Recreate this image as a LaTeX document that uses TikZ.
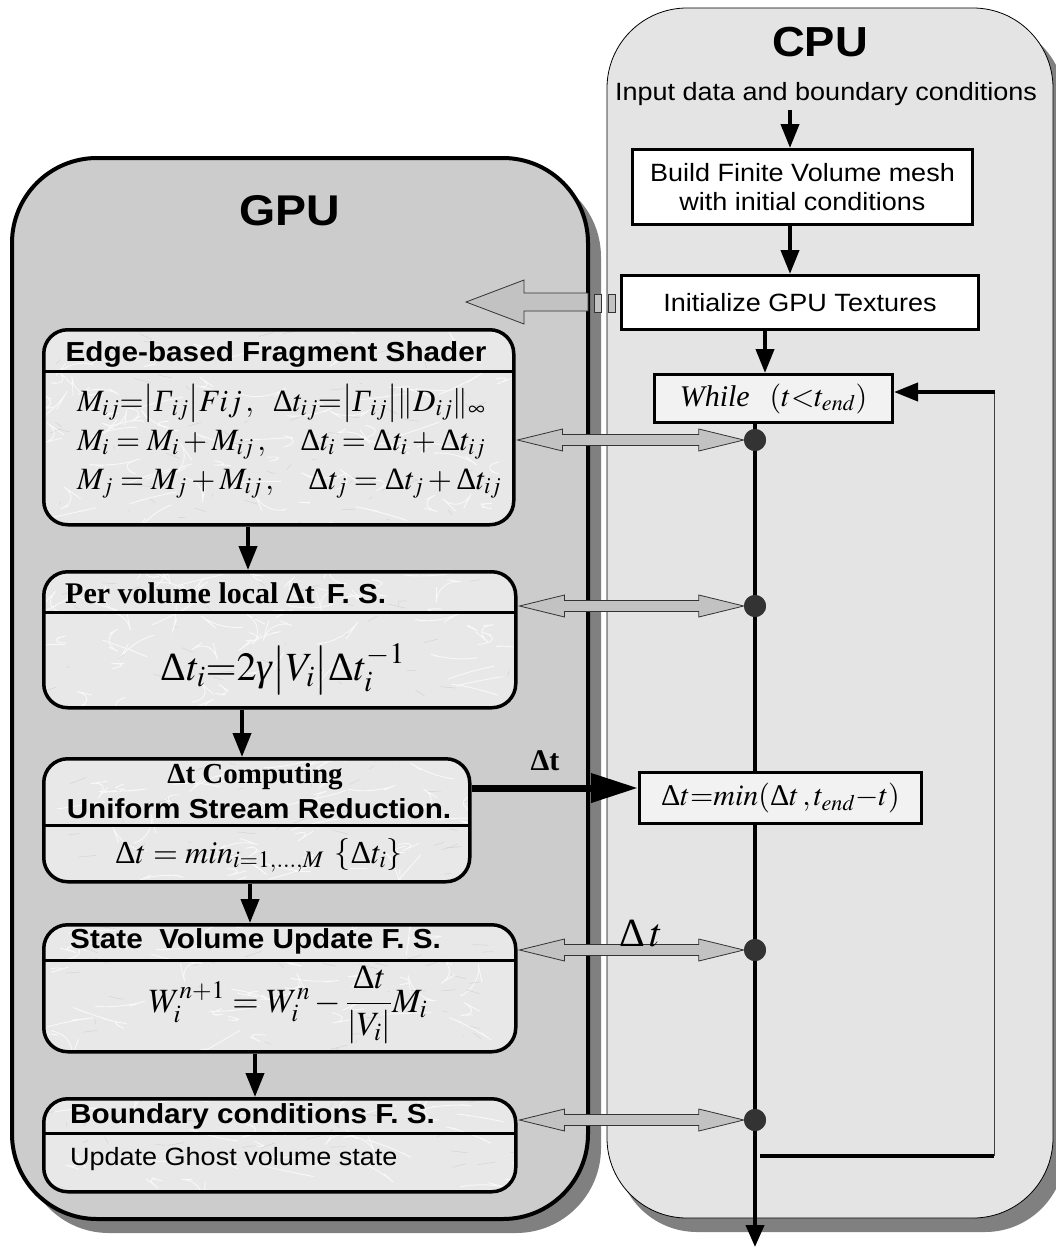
\documentclass[tikz,border=0pt]{standalone}
\usepackage{mathptmx}
\usepackage{fontspec}
\setmainfont{Liberation Serif}
\setsansfont{Liberation Sans}[FakeStretch=1.08]
\usetikzlibrary{arrows.meta,calc}

\definecolor{gpugray}{HTML}{CCCCCC}
\definecolor{cpugray}{HTML}{E4E4E4}
\definecolor{shadegray}{HTML}{808080}
\definecolor{stone}{HTML}{E8E8E8}
\definecolor{vein}{HTML}{F8F8F8}
\definecolor{grain}{HTML}{D4D4D4}
\definecolor{pipegray}{HTML}{C2C2C2}
\definecolor{dotgray}{HTML}{333333}
\definecolor{loopbox}{HTML}{F2F2F2}

% Greek letters taken from the Times-like text font
\newcommand\tDelta{\mbox{\rmfamily\upshape Δ}}
\newcommand\tGamma{\mbox{\rmfamily\itshape Γ}}
\newcommand\tgamma{\mbox{\rmfamily\itshape γ}}

% two-headed transfer arrow between a GPU stage and a junction on the CPU line
\newcommand\twoway[2]{%
  \path[pipe] let \p1=($(#1.east |- #2)+(2pt,0)$), \p2=(#2.west) in
    (\x1,\y1) -- (\x1+45pt,\y1+11pt) -- (\x1+45pt,\y1+5.5pt)
    -- (\x2-45pt,\y1+5.5pt) -- (\x2-45pt,\y1+11pt) -- (\x2,\y1)
    -- (\x2-45pt,\y1-11pt) -- (\x2-45pt,\y1-5.5pt)
    -- (\x1+45pt,\y1-5.5pt) -- (\x1+45pt,\y1-11pt) -- cycle;}

\begin{document}
\begin{tikzpicture}[x=1pt, y=-1pt,
  every node/.style={inner sep=0pt},
  marble/.style={path picture={
    \foreach \k in {1,...,70}{
      \draw[vein, line width=0.9pt]
        ($(path picture bounding box.south west)+(rnd*480pt,rnd*200pt)$)
        -- ++(rand*28pt,rand*9pt) -- ++(rand*20pt,rand*7pt);
      \draw[grain, line width=0.5pt]
        ($(path picture bounding box.south west)+(rnd*480pt,rnd*200pt)$)
        -- ++(rand*18pt,rand*6pt);}}},
  stage/.style={draw, line width=3.5pt, fill=stone, marble, rounded corners=24pt, anchor=north west},
  hdr/.style={font=\sffamily\bfseries\fontsize{27.5}{36}\selectfont},
  cpubox/.style={draw, line width=3pt, fill=white, anchor=north west},
  flow/.style={line width=4pt, -{Triangle[length=24pt,width=18pt]}},
  pipe/.style={fill=pipegray, draw=black!80, line width=0.8pt},
  junction/.style={circle, fill=dotgray, minimum size=22pt},
  divider/.style={line width=3pt},
  eq/.style={font=\fontsize{31}{34}\selectfont}]
\useasboundingbox (0,0) rectangle (1055,1247);
\pgfmathsetseed{11}

% ---- GPU panel
\fill[shadegray, rounded corners=85pt] (24,172) rectangle (601,1233);
\draw[line width=4pt, fill=gpugray, rounded corners=85pt] (12,158) rectangle (588,1219);
\node[font=\sffamily\bfseries\fontsize{43}{48}\selectfont] (gputitle) at (290,211) {GPU};

% ---- CPU panel
\fill[shadegray, rounded corners=80pt] (617,22) rectangle (1065,1232);
\draw[line width=0.8pt, fill=cpugray, rounded corners=80pt] (607,8) rectangle (1053,1218);
\node[font=\sffamily\bfseries\fontsize{42}{48}\selectfont] (cputitle) at (820,42) {CPU};

% ---- GPU stages
\node[stage, minimum width=470pt, minimum height=195pt] (edge) at (42,328) {};
\draw[divider] (42,371) -- (512,371);
\node[hdr, anchor=base] (edgehdr) at (276,361) {Edge-based Fragment Shader};
\node[eq, anchor=base west] (eqa) at (77,411)
  {$M_{ij}{=}\bigl|\tGamma_{ij}\bigr|Fij\,,\ \ \tDelta t_{ij}{=}\bigl|\tGamma_{ij}\bigr|\|D_{ij}\|_{\infty}$};
\node[eq, anchor=base west] (eqb) at (77,450)
  {$M_{i}=M_{i}+M_{ij}\,,\quad \tDelta t_{i}=\tDelta t_{i}+\tDelta t_{ij}$};
\node[eq, anchor=base west] (eqc) at (77,489)
  {$M_{j}=M_{j}+M_{ij}\,,\quad \tDelta t_{j}=\tDelta t_{j}+\tDelta t_{ij}$};

\node[stage, minimum width=472pt, minimum height=136pt] (local) at (42,570) {};
\draw[divider] (42,612) -- (514,612);
\node[anchor=base west] (localhdr) at (65,603)
  {{\rmfamily\bfseries\fontsize{30}{32}\selectfont Per volume local Δt}\hspace{12pt}{\sffamily\bfseries\fontsize{27.5}{30}\selectfont F. S.}};
\node[font=\fontsize{40}{44}\selectfont, anchor=base] (eqd) at (283,680)
  {$\tDelta t_{i}{=}2\tgamma\bigl|V_{i}\bigr|\tDelta t_{i}^{-1}$};

\node[stage, minimum width=426pt, minimum height=123pt] (reduce) at (42,757) {};
\draw[divider] (42,825) -- (468,825);
\node[font=\rmfamily\bfseries\fontsize{29}{30}\selectfont, anchor=base] (reducehdr) at (255,783) {Δt Computing};
\node[hdr, anchor=base] (reducesub) at (259,818) {Uniform Stream Reduction.};
\node[font=\fontsize{32}{34}\selectfont, anchor=base west] (eqe) at (115,863)
  {$\tDelta t=min_{i=1,\dots,M}\;\left\{\tDelta t_{i}\right\}$};

\node[stage, minimum width=472pt, minimum height=127pt] (update) at (42,923) {};
\draw[divider] (42,960) -- (514,960);
\node[hdr, anchor=base west] (updatehdr) at (70,948) {State\ \ Volume Update F. S.};
\node[font=\fontsize{34}{36}\selectfont, anchor=base] (eqf) at (288,1012)
  {$W_{i}^{n+1}=W_{i}^{n}-\displaystyle\frac{\tDelta t}{\left|V_{i}\right|}M_{i}$};

\node[stage, minimum width=472pt, minimum height=93pt] (bound) at (42,1097) {};
\draw[divider] (42,1133) -- (514,1133);
\node[hdr, anchor=base west] (boundhdr) at (70,1123) {Boundary conditions F. S.};
\node[font=\sffamily\fontsize{25}{30}\selectfont, anchor=base west] (boundtxt) at (70,1165) {Update Ghost volume state};

% ---- CPU steps
\node[font=\sffamily\fontsize{25}{30}\selectfont] (input) at (826,94) {Input data and boundary conditions};
\node[cpubox, minimum width=340pt, minimum height=75pt, align=center,
      font=\sffamily\fontsize{25}{29}\selectfont] (mesh) at (631,148)
  {Build Finite Volume mesh\\with initial conditions};
\node[cpubox, minimum width=357pt, minimum height=54pt,
      font=\sffamily\fontsize{25}{30}\selectfont] (tex) at (620,274) {Initialize GPU Textures};
\node[cpubox, fill=loopbox, minimum width=238pt, minimum height=48pt,
      font=\fontsize{30}{32}\selectfont] (whilebox) at (653,373)
  {$\mbox{\itshape While}\;\;\;(t{<}t_{end})$};
\node[cpubox, fill=loopbox, minimum width=282pt, minimum height=51pt,
      font=\fontsize{30}{32}\selectfont] (clamp) at (638,771)
  {$\tDelta t{=}min(\tDelta t\,,t_{end}{-}t)$};

% guide coordinates
\coordinate (xa) at (790,0);
\coordinate (xb) at (765,0);
\coordinate (xm) at (755,0);
\coordinate (xr) at (994,0);
\coordinate (ya) at (0,788);
\coordinate (bottom) at (755,1247);
\coordinate (loopin) at (994,392);
\coordinate (loopout) at (755,1156);
\coordinate (gpuin) at (466,302);
\coordinate (g1) at (248,0);
\coordinate (g2) at (242,0);
\coordinate (g3) at (250,0);
\coordinate (g4) at (255,0);

% CPU control flow
\draw[flow] ($(input.south -| xa)+(0,4)$) -- (mesh.north -| xa);
\draw[flow] (mesh.south -| xa) -- (tex.north -| xa);
\draw[flow] (tex.south -| xb) -- (whilebox.north -| xb);
\draw[line width=4pt] (whilebox.south -| xm) -- (clamp.north -| xm);
\draw[line width=4pt, -{Triangle[length=22pt,width=18pt]}] (clamp.south -| xm) -- (bottom);
\draw[line width=4pt] ($(loopout)+(5,0)$) -- (loopout -| xr);
\draw[line width=1pt, draw=black!75] (loopout -| xr) -- (loopin);
\draw[flow] ([xshift=1pt]loopin) -- (whilebox.east |- loopin);

% GPU stage sequence
\draw[flow] (edge.south -| g1) -- (local.north -| g1);
\draw[flow] (local.south -| g2) -- (reduce.north -| g2);
\draw[flow] (reduce.south -| g3) -- (update.north -| g3);
\draw[flow] (update.south -| g4) -- (bound.north -| g4);

% texture upload towards the GPU
\path[pipe] (gpuin) -- (524,280) -- (524,293) -- (588,293) -- (588,311) -- (524,311) -- (524,324) -- cycle;
\path[pipe] (594,294) rectangle (601,312);
\path[pipe] (608,294) rectangle (615,312);

% reduced time step sent to the CPU
\draw[line width=7pt, -{Triangle[length=47pt,width=28pt]}] (reduce.east |- ya) -- (clamp.west |- ya);
\node[font=\rmfamily\bfseries\fontsize{30}{34}\selectfont, anchor=base] (dtbold) at (545,770) {Δt};

% junctions on the time loop
\node[junction] (j1) at (755,440) {};
\node[junction] (j2) at (755,606) {};
\node[junction] (j3) at (755,950) {};
\node[junction] (j4) at (755,1120) {};
\twoway{edge}{j1}
\twoway{local}{j2}
\twoway{update}{j3}
\twoway{bound}{j4}
\node[junction] at (j1) {};
\node[junction] at (j2) {};
\node[junction] at (j3) {};
\node[junction] at (j4) {};
\node[font=\fontsize{40}{44}\selectfont, anchor=base] (dtlabel) at (641,946) {$\tDelta\,t$};
\end{tikzpicture}
\end{document}
